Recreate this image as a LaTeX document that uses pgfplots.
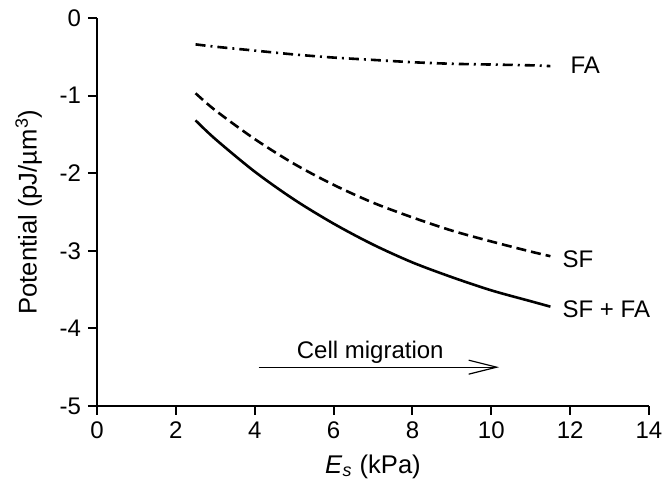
\documentclass[border=0pt]{standalone}
\usepackage{fontspec}
\setmainfont{Liberation Sans}
\usepackage{pgfplots}
\pgfplotsset{compat=1.18}
\usetikzlibrary{arrows.meta,calc}
\newcommand{\f}{\fontsize{12}{14}\selectfont}
\newcommand{\fl}{\fontsize{12.8}{15}\selectfont}
\begin{document}
\begin{tikzpicture}
\begin{axis}[
  scale only axis,
  width=276pt, height=194pt,
  xmin=0, xmax=14, ymin=-5, ymax=0,
  xtick={0,2,...,14}, ytick={-5,-4,...,0},
  axis x line*=bottom, axis y line*=left,
  axis line style={line width=1pt},
  tick style={line width=1pt, black},
  tick align=outside,
  major tick length=4.5pt,
  /pgf/number format/assume math mode=true,
  ticklabel style={font=\f},
  label style={font=\fl},
  xlabel={\textit{E}\textsubscript{\textit{s}} (kPa)},
  ylabel={Potential (pJ/µm\textsuperscript{3})},
  xlabel style={yshift=-1pt},
  ylabel style={yshift=2pt},
  clip=false,
]
\coordinate (bl) at (rel axis cs:0,0);
\coordinate (tr) at (rel axis cs:1,1);
% FA
\addplot[black, line width=1.3pt, smooth, dash pattern=on 5pt off 2.5pt on 1pt off 2.5pt] coordinates {
(2.5,-0.34) (3,-0.37) (4,-0.42) (5,-0.47) (6,-0.51) (7,-0.54) (8,-0.57) (9,-0.59) (10,-0.60) (11,-0.61) (11.5,-0.62)};
% SF
\addplot[black, line width=1.3pt, smooth, dash pattern=on 5pt off 2.5pt] coordinates {
(2.5,-0.97) (3,-1.19) (4,-1.56) (5,-1.88) (6,-2.15) (7,-2.38) (8,-2.57) (9,-2.74) (10,-2.88) (11,-3.01) (11.5,-3.07)};
% SF + FA
\addplot[black, line width=1.3pt, smooth] coordinates {
(2.5,-1.32) (3,-1.56) (4,-1.98) (5,-2.34) (6,-2.65) (7,-2.92) (8,-3.15) (9,-3.34) (10,-3.51) (11,-3.65) (11.5,-3.72)};
\node[anchor=west, inner sep=0pt, font=\f] at (axis cs:12.0,-0.61) {FA};
\node[anchor=west, inner sep=0pt, font=\f] at (axis cs:11.8,-3.11) {SF};
\node[anchor=west, inner sep=0pt, font=\f] at (axis cs:11.8,-3.75) {SF + FA};
\draw[line width=0.6pt, -{Straight Barb[length=14pt,width=7pt,line width=0.6pt]}] (axis cs:4.1,-4.5) -- (axis cs:10.2,-4.5);
\node[inner sep=0pt, font=\f] at (axis cs:6.93,-4.31) {Cell migration};
\end{axis}
\pgfresetboundingbox
\path ($(bl)+(-48.5pt,-40.5pt)$) rectangle ($(tr)+(8pt,9pt)$);
\end{tikzpicture}
\end{document}
